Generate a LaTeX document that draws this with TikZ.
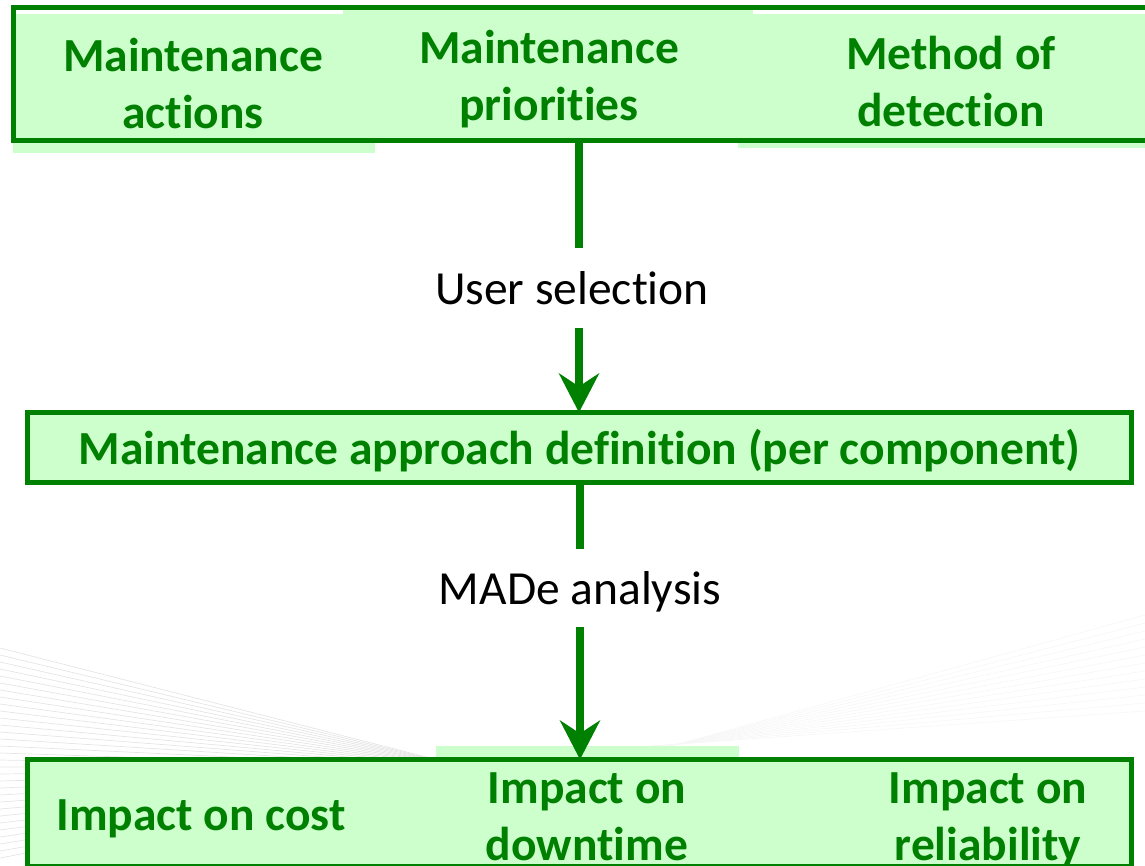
\documentclass[tikz,border=0pt]{standalone}
\usepackage{fontspec}
\setmainfont{Carlito}[Ligatures={NoCommon}]
\usetikzlibrary{arrows.meta}
\definecolor{dkgreen}{RGB}{0,128,0}
\definecolor{ltgreen}{RGB}{204,255,204}
\tikzset{
  box/.style={draw=dkgreen, fill=ltgreen, line width=5pt, inner sep=0pt, outer sep=0pt},
  lbl/.style={font=\bfseries\fontsize{47.5}{57}\selectfont, text=dkgreen, align=center, inner sep=0pt},
  steplabel/.style={font=\fontsize{47.5}{57}\selectfont, text=black, inner sep=0pt, outer sep=0pt,
    text height=33pt, text depth=0pt},
  shaft/.style={draw=dkgreen, line width=8pt, line cap=butt},
  arr/.style={shaft, -{Stealth[length=39pt, width=40pt, inset=13pt]}},
  bgline/.style={draw=gray!20, line width=0.7pt},
  bgline2/.style={draw=gray!6, line width=0.7pt}
}
\begin{document}
\begin{tikzpicture}[x=1pt, y=-1pt]
\useasboundingbox (0,0) rectangle (1145,865);
\clip (0,0) rectangle (1145,865);
% faint background swooshes
\foreach \i in {0,...,30} {
  \draw[bgline] (0,{648+7*\i}) -- (430,{758+0.6*\i});
}
\foreach \i in {0,...,12} {
  \draw[bgline2] (650,{752-0.5*\i}) -- (1145,{615+8*\i});
}
% light green offsets
\fill[ltgreen] (13,143) rectangle (375,153);
\fill[ltgreen] (738,143) rectangle (1145,148);
\fill[ltgreen] (436,746) rectangle (739,758);
% boxes
\node[box, minimum width=1146.5pt, minimum height=133pt] (top) at (586.75,74) {};
\fill[white] (16,10) rectangle (343,14);
\fill[white] (753,10) rectangle (1145,14);
\node[box, minimum width=1104pt, minimum height=70pt, font=\bfseries\fontsize{47.5}{57}\selectfont,
  text=dkgreen, text height=33pt, text depth=0pt] (mid) at (579.5,447.5)
  {Maintenance approach definition (per component)};
\node[box, minimum width=1104pt, minimum height=106.5pt] (bot) at (579.5,812.75) {};
% texts in top box (anchor base = baseline of last line)
\node[lbl, anchor=base] (ma) at (193,128) {Maintenance\\actions};
\node[lbl, anchor=base] (mp) at (549,120) {Maintenance\\priorities};
\node[lbl, anchor=base] (md) at (951,126) {Method of\\detection};
% texts in bottom box
\node[lbl, anchor=base] (ic) at (201,830) {Impact on cost};
\node[lbl, anchor=base] (id) at (587,860) {Impact on\\downtime};
\node[lbl, anchor=base] (ir) at (988,860) {Impact on\\reliability};
% step labels
\node[steplabel, minimum height=80pt] (sel) at (572,288) {User selection};
\node[steplabel, minimum height=78pt] (made) at (580,588) {MADe analysis};
% connectors
\draw[shaft] (top.south -| 579,0) -- (579,248) coordinate (s1);
\draw[arr] (579,328) coordinate (s2) -- (mid.north -| s2);
\draw[shaft] (mid.south -| 580,0) -- (580,549) coordinate (s3);
\draw[arr] (580,627) coordinate (s4) -- (bot.north -| s4);
\end{tikzpicture}
\end{document}
